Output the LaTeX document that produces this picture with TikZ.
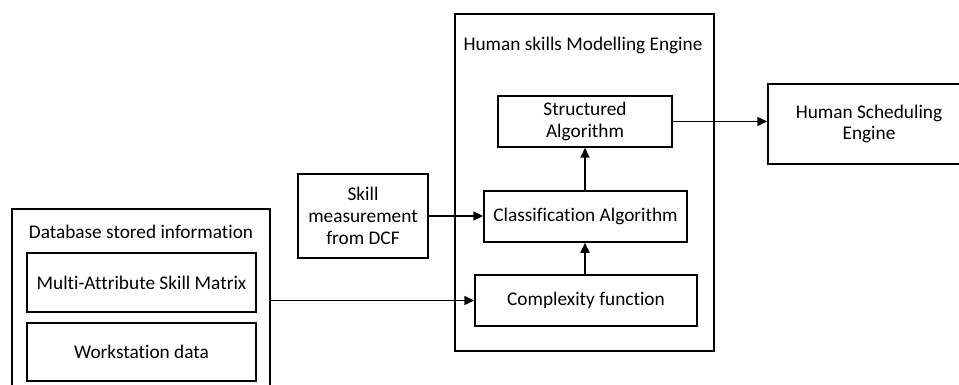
\documentclass[tikz,border=0pt]{standalone}
\usepackage{fontspec}
\setmainfont{Carlito}[Ligatures={NoCommon}]
\usetikzlibrary{arrows.meta}
\begin{document}
\begin{tikzpicture}[x=1pt,y=-1pt,
  box/.style={draw, line width=1.5pt, inner sep=0pt, align=center,
    font=\fontsize{19.3}{21.7}\selectfont},
  lbl/.style={inner sep=0pt, font=\fontsize{19.3}{21.7}\selectfont},
  flow/.style={line width=1.5pt, -{Triangle[length=10pt,width=9pt]}}]
\clip (0,0) rectangle (959,385);
\fill[white] (0,0) rectangle (959,385);
% containers
\node[box, minimum width=258pt, minimum height=190pt] (db) at (141,304) {};
\node[lbl] (dblbl) at (141,232) {Database stored information};
\node[box, minimum width=259pt, minimum height=337pt] (eng) at (584.5,182.5) {};
\node[lbl] (englbl) at (583,45) {Human skills Modelling Engine};
% stored data
\node[box, minimum width=229pt, minimum height=59pt] (msm) at (141.5,282.5) {Multi-Attribute Skill Matrix};
\node[box, minimum width=229pt, minimum height=58pt] (ws) at (141.5,352) {Workstation data};
% inputs
\node[box, minimum width=130pt, minimum height=84pt] (skill) at (363,216) {Skill\\measurement\\from DCF};
% engine internals
\node[box, minimum width=174pt, minimum height=51pt] (sa) at (585,121.5) {Structured\\Algorithm};
\node[box, minimum width=203pt, minimum height=51pt] (ca) at (585.5,216.5) {Classification Algorithm};
\node[box, minimum width=222pt, minimum height=51pt] (cf) at (586,300.5) {Complexity function};
% output
\node[box, minimum width=202pt, minimum height=80pt] (hse) at (869,124) {Human Scheduling\\Engine};
% connectors
\draw[flow] (db.east |- cf.west) -- (cf.west);
\draw[flow] (skill.east) -- (ca.west |- skill.east);
\draw[flow] (cf.north -| sa.south) -- (ca.south -| sa.south);
\draw[flow] (ca.north -| sa.south) -- (sa.south);
\draw[flow] (sa.east) -- (hse.west |- sa.east);
\end{tikzpicture}
\end{document}
